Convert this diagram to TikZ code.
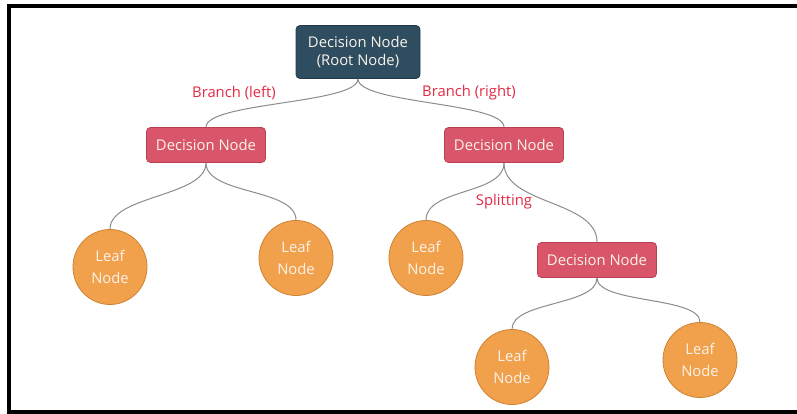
\documentclass[tikz,border=0pt]{standalone}
\usepackage{fontspec}
\setmainfont{Open Sans}
\usetikzlibrary{shapes.geometric}

\definecolor{rootfill}{HTML}{2E4D61}
\definecolor{rootedge}{HTML}{22394A}
\definecolor{decfill}{HTML}{D9566A}
\definecolor{decedge}{HTML}{B9404F}
\definecolor{leaffill}{HTML}{F1A04C}
\definecolor{leafedge}{HTML}{CF8232}
\definecolor{labelred}{HTML}{E52A45}
\definecolor{wirecol}{HTML}{8C8C8C}
\definecolor{nodetext}{HTML}{FBF3E8}

\tikzset{
  rootbox/.style={draw=rootedge, line width=0.8pt, fill=rootfill, rounded corners=4pt,
    minimum width=124pt, minimum height=53pt, text=nodetext, font=\fontsize{14.8}{18.5}\selectfont,
    align=center, inner sep=0pt},
  decbox/.style={draw=decedge, line width=0.8pt, fill=decfill, rounded corners=4pt,
    minimum width=119pt, minimum height=35pt, text=nodetext, font=\fontsize{14.8}{17}\selectfont,
    inner sep=0pt},
  leafnode/.style={ellipse, draw=leafedge, line width=0.8pt, fill=leaffill,
    minimum width=74pt, minimum height=75pt, text=nodetext, font=\fontsize{14.8}{22}\selectfont,
    align=center, inner sep=0pt},
  tag/.style={text=labelred, font=\fontsize{14.8}{17}\selectfont, inner sep=0pt},
  wire/.style={draw=wirecol, line width=1pt},
  frameline/.style={line width=3.5pt, draw=black}
}

\begin{document}
\begin{tikzpicture}[x=1pt, y=-1pt]
  \useasboundingbox (0,0) rectangle (797,414);
  \fill[white] (0,0) rectangle (797,414);

  % open frame: top, left and bottom edges
  \draw[frameline] (797,6) -- (9,6) -- (9,412) -- (797,412);

  % nodes
  \node[rootbox] (root) at (358,52) {Decision Node\\(Root Node)};
  \node[decbox] (dl) at (206,145) {Decision Node};
  \node[decbox] (dr) at (504,145) {Decision Node};
  \node[decbox] (drr) at (597,260) {Decision Node};
  \node[leafnode] (l1) at (110,267) {Leaf\\Node};
  \node[leafnode] (l2) at (296,258) {Leaf\\Node};
  \node[leafnode] (l3) at (426,258) {Leaf\\Node};
  \node[leafnode] (l4) at (512,367) {Leaf\\Node};
  \node[leafnode] (l5) at (700,360) {Leaf\\Node};

  % branch labels
  \node[tag] (tl) at (234,93) {Branch (left)};
  \node[tag] (tr) at (469,93) {Branch (right)};
  \node[tag] (ts) at (504,202) {Splitting};

  % curved connectors
  \draw[wire] (root.south) .. controls +(0,25) and +(0,-25) .. (dl.north);
  \draw[wire] (root.south) .. controls +(0,25) and +(0,-25) .. (dr.north);
  \draw[wire] (dl.south) .. controls +(0,34) and +(0,-34) .. (l1.north);
  \draw[wire] (dl.south) .. controls +(0,32) and +(0,-32) .. (l2.north);
  \draw[wire] (dr.south) .. controls +(0,32) and +(0,-32) .. (l3.north);
  \draw[wire] (dr.south) .. controls +(0,42) and +(0,-42) .. (drr.north);
  \draw[wire] (drr.south) .. controls +(0,28) and +(0,-28) .. (l4.north);
  \draw[wire] (drr.south) .. controls +(0,26) and +(0,-26) .. (l5.north);
\end{tikzpicture}
\end{document}
